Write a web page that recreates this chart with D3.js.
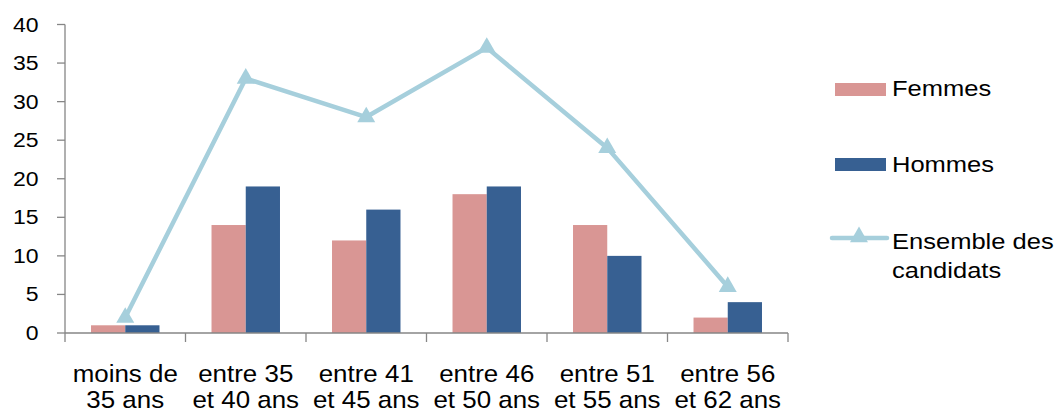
<!DOCTYPE html>
<html>
<head>
<meta charset="utf-8">
<script src="https://cdn.jsdelivr.net/npm/d3@7"></script>
<style>
  html, body { margin: 0; padding: 0; background: #ffffff; }
  svg { display: block; }
  text { font-family: "Liberation Sans", Arial, sans-serif; fill: #000; }
</style>
</head>
<body>
<svg id="chart" width="1064" height="414"></svg>
<script>
// ---- data ----
const categories = [
  ["moins de", "35 ans"],
  ["entre 35", "et 40 ans"],
  ["entre 41", "et 45 ans"],
  ["entre 46", "et 50 ans"],
  ["entre 51", "et 55 ans"],
  ["entre 56", "et 62 ans"]
];
const femmes = [1, 14, 12, 18, 14, 2];
const hommes = [1, 19, 16, 19, 10, 4];
const ensemble = [2, 33, 28, 37, 24, 6];
const yTicks = [0, 5, 10, 15, 20, 25, 30, 35, 40];
const seriesNames = ["Femmes", "Hommes", "Ensemble des candidats"];

// ---- styles ----
const colFemmes = "#d99694";
const colHommes = "#376092";
const colLine = "#a6cfdc";
const axisCol = "#868686";

const svg = d3.select("#chart");
const catKeys = categories.map((c, i) => i);

const x = d3.scaleBand().domain(catKeys).range([65, 788]).paddingInner(0).paddingOuter(0);
const y = d3.scaleLinear().domain([0, 40]).range([333, 24.5]);
const xs = d3.scaleBand().domain(["F", "H"]).range([0, x.bandwidth()]).paddingInner(0).paddingOuter(0.76);

// y axis
const gy = svg.append("g");
gy.append("line").attr("x1", 65).attr("x2", 65).attr("y1", y(40)).attr("y2", y(0))
  .attr("stroke", axisCol).attr("stroke-width", 1.3);
gy.selectAll("line.t").data(yTicks).enter().append("line").attr("class", "t")
  .attr("x1", 57).attr("x2", 65).attr("y1", d => y(d)).attr("y2", d => y(d))
  .attr("stroke", axisCol).attr("stroke-width", 1.3);
gy.selectAll("text").data(yTicks).enter().append("text")
  .attr("text-anchor", "end")
  .attr("transform", d => `translate(38.5,${y(d) + 7}) scale(1.18,1)`)
  .style("font-size", "19.5px")
  .text(d => d);

// bars
const bars = svg.append("g");
bars.selectAll("rect.f").data(femmes).enter().append("rect").attr("class", "f")
  .attr("x", (d, i) => x(i) + xs("F")).attr("width", xs.bandwidth())
  .attr("y", d => y(d)).attr("height", d => y(0) - y(d)).attr("fill", colFemmes);
bars.selectAll("rect.h").data(hommes).enter().append("rect").attr("class", "h")
  .attr("x", (d, i) => x(i) + xs("H")).attr("width", xs.bandwidth())
  .attr("y", d => y(d)).attr("height", d => y(0) - y(d)).attr("fill", colHommes);

// x axis
const gx = svg.append("g");
gx.append("line").attr("x1", 65).attr("x2", 788).attr("y1", y(0)).attr("y2", y(0))
  .attr("stroke", axisCol).attr("stroke-width", 1.3);
const bounds = catKeys.map(i => x(i)).concat([x(catKeys[catKeys.length - 1]) + x.bandwidth()]);
gx.selectAll("line.t").data(bounds).enter().append("line").attr("class", "t")
  .attr("x1", d => d).attr("x2", d => d).attr("y1", y(0)).attr("y2", y(0) + 9)
  .attr("stroke", axisCol).attr("stroke-width", 1.3);
categories.forEach((c, i) => {
  c.forEach((s, j) => {
    gx.append("text")
      .attr("text-anchor", "middle")
      .attr("transform", `translate(${x(i) + x.bandwidth() / 2},${382 + j * 26}) scale(1.08,1)`)
      .style("font-size", "24px")
      .text(s);
  });
});

// line
const cx = i => x(i) + x.bandwidth() / 2;
const line = d3.line().x((d, i) => cx(i)).y(d => y(d));
svg.append("path").datum(ensemble).attr("d", line)
  .attr("fill", "none").attr("stroke", colLine).attr("stroke-width", 4.5)
  .attr("stroke-linejoin", "round");
const tri = d3.symbol().type(d3.symbolTriangle).size(140);
svg.selectAll("path.m").data(ensemble).enter().append("path").attr("class", "m")
  .attr("d", tri).attr("fill", colLine)
  .attr("transform", (d, i) => `translate(${cx(i)},${y(d)})`);

// legend
const lg = svg.append("g");
lg.append("rect").attr("x", 835).attr("y", 83).attr("width", 51).attr("height", 13).attr("fill", colFemmes);
lg.append("rect").attr("x", 835).attr("y", 158).attr("width", 51).attr("height", 13).attr("fill", colHommes);
lg.append("line").attr("x1", 832).attr("x2", 887).attr("y1", 238).attr("y2", 238)
  .attr("stroke", colLine).attr("stroke-width", 4.5).attr("stroke-linecap", "round");
lg.append("path").attr("d", tri).attr("fill", colLine).attr("transform", "translate(859,237)");
const legTexts = [
  { lines: [seriesNames[0]], y: 96 },
  { lines: [seriesNames[1]], y: 172 },
  { lines: ["Ensemble des", "candidats"], y: 248.5 }
];
legTexts.forEach(t => {
  t.lines.forEach((s, j) => {
    lg.append("text")
      .attr("transform", `translate(892,${t.y + j * 29.5}) scale(1.16,1)`)
      .style("font-size", "22px")
      .text(s);
  });
});
</script>
</body>
</html>
